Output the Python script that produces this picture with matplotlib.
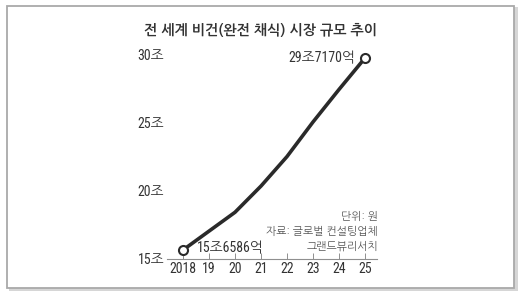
import matplotlib
matplotlib.use('Agg')
import matplotlib.pyplot as plt
from matplotlib.patches import Rectangle

plt.rcParams['font.family'] = ['Roboto Condensed', 'NanumGothic', 'Noto Sans CJK KR', 'DejaVu Sans']

# 데이터 (단위: 조 원)
years = [2018, 2019, 2020, 2021, 2022, 2023, 2024, 2025]
year_labels = ['2018', '19', '20', '21', '22', '23', '24', '25']
market = [15.6586, 17.04, 18.42, 20.34, 22.50, 25.03, 27.41, 29.717]
y_ticks = [15, 20, 25, 30]
y_labels = ['15조', '20조', '25조', '30조']
first_label = '15조6586억'
last_label = '29조7170억'
title = '전 세계 비건(완전 채식) 시장 규모 추이'
notes = ['단위: 원', '자료: 글로벌 컨설팅업체', '그랜드뷰리서치']

W, H = 522, 296
fig = plt.figure(figsize=(W / 100, H / 100), dpi=100)
fig.patch.set_facecolor('white')

# 패널 테두리 + 그림자 (축 아래에 깔리도록 zorder 음수)
fig.patches.append(Rectangle((9 / W, 1 - 291 / H), 509 / W, 284 / H, transform=fig.transFigure,
                             facecolor='#d6d6d6', edgecolor='none', zorder=-3))
fig.patches.append(Rectangle((7 / W, 1 - 288 / H), 507 / W, 282 / H, transform=fig.transFigure,
                             facecolor='white', edgecolor='#a9a9a9', lw=1.3, zorder=-2))

ax = fig.add_axes([167 / W, 37 / H, 210 / W, 209 / H])
ax.set_facecolor('none')

ax.plot(years, market, color='#2a2a2a', lw=2.6, solid_capstyle='round', solid_joinstyle='round', zorder=3)
ax.plot([years[0], years[-1]], [market[0], market[-1]], 'o', ms=6.5, mfc='white',
        mec='#2a2a2a', mew=1.5, zorder=4, clip_on=False)

ax.annotate(first_label, (years[0], market[0]), xytext=(10, 1), textcoords='offset points',
            ha='left', va='center', fontsize=10, color='#333333')
ax.annotate(last_label, (years[-1], market[-1]), xytext=(-7, 0), textcoords='offset points',
            ha='right', va='center', fontsize=10, color='#333333')

ax.set_xlim(2018 - 16 / 26, 2018 - 16 / 26 + 210 / 26)
ax.set_ylim(15, 30.3)
ax.set_xticks(years)
ax.set_xticklabels(year_labels)
ax.set_yticks(y_ticks)
ax.set_yticklabels(y_labels)

for s in ['top', 'right', 'left']:
    ax.spines[s].set_visible(False)
ax.spines['bottom'].set_color('#8f8f8f')
ax.spines['bottom'].set_linewidth(0.8)
ax.tick_params(axis='x', direction='in', length=4, width=0.7, color='#8f8f8f',
               labelsize=10, labelcolor='#333333', pad=2)
ax.tick_params(axis='y', length=0, labelsize=10, labelcolor='#333333', pad=2)

fig.text(260 / W, 1 - 30 / H, title, ha='center', va='center', fontsize=10.2,
         fontweight='bold', color='#333333', family=['NanumGothic', 'Noto Sans CJK KR'])

for i, line in enumerate(notes):
    fig.text(378 / W, 1 - (216 + 15 * i) / H, line, ha='right', va='center',
             fontsize=7.8, color='#555555', family=['NanumGothic', 'Noto Sans CJK KR'])

fig.savefig('out.png', dpi=100)
